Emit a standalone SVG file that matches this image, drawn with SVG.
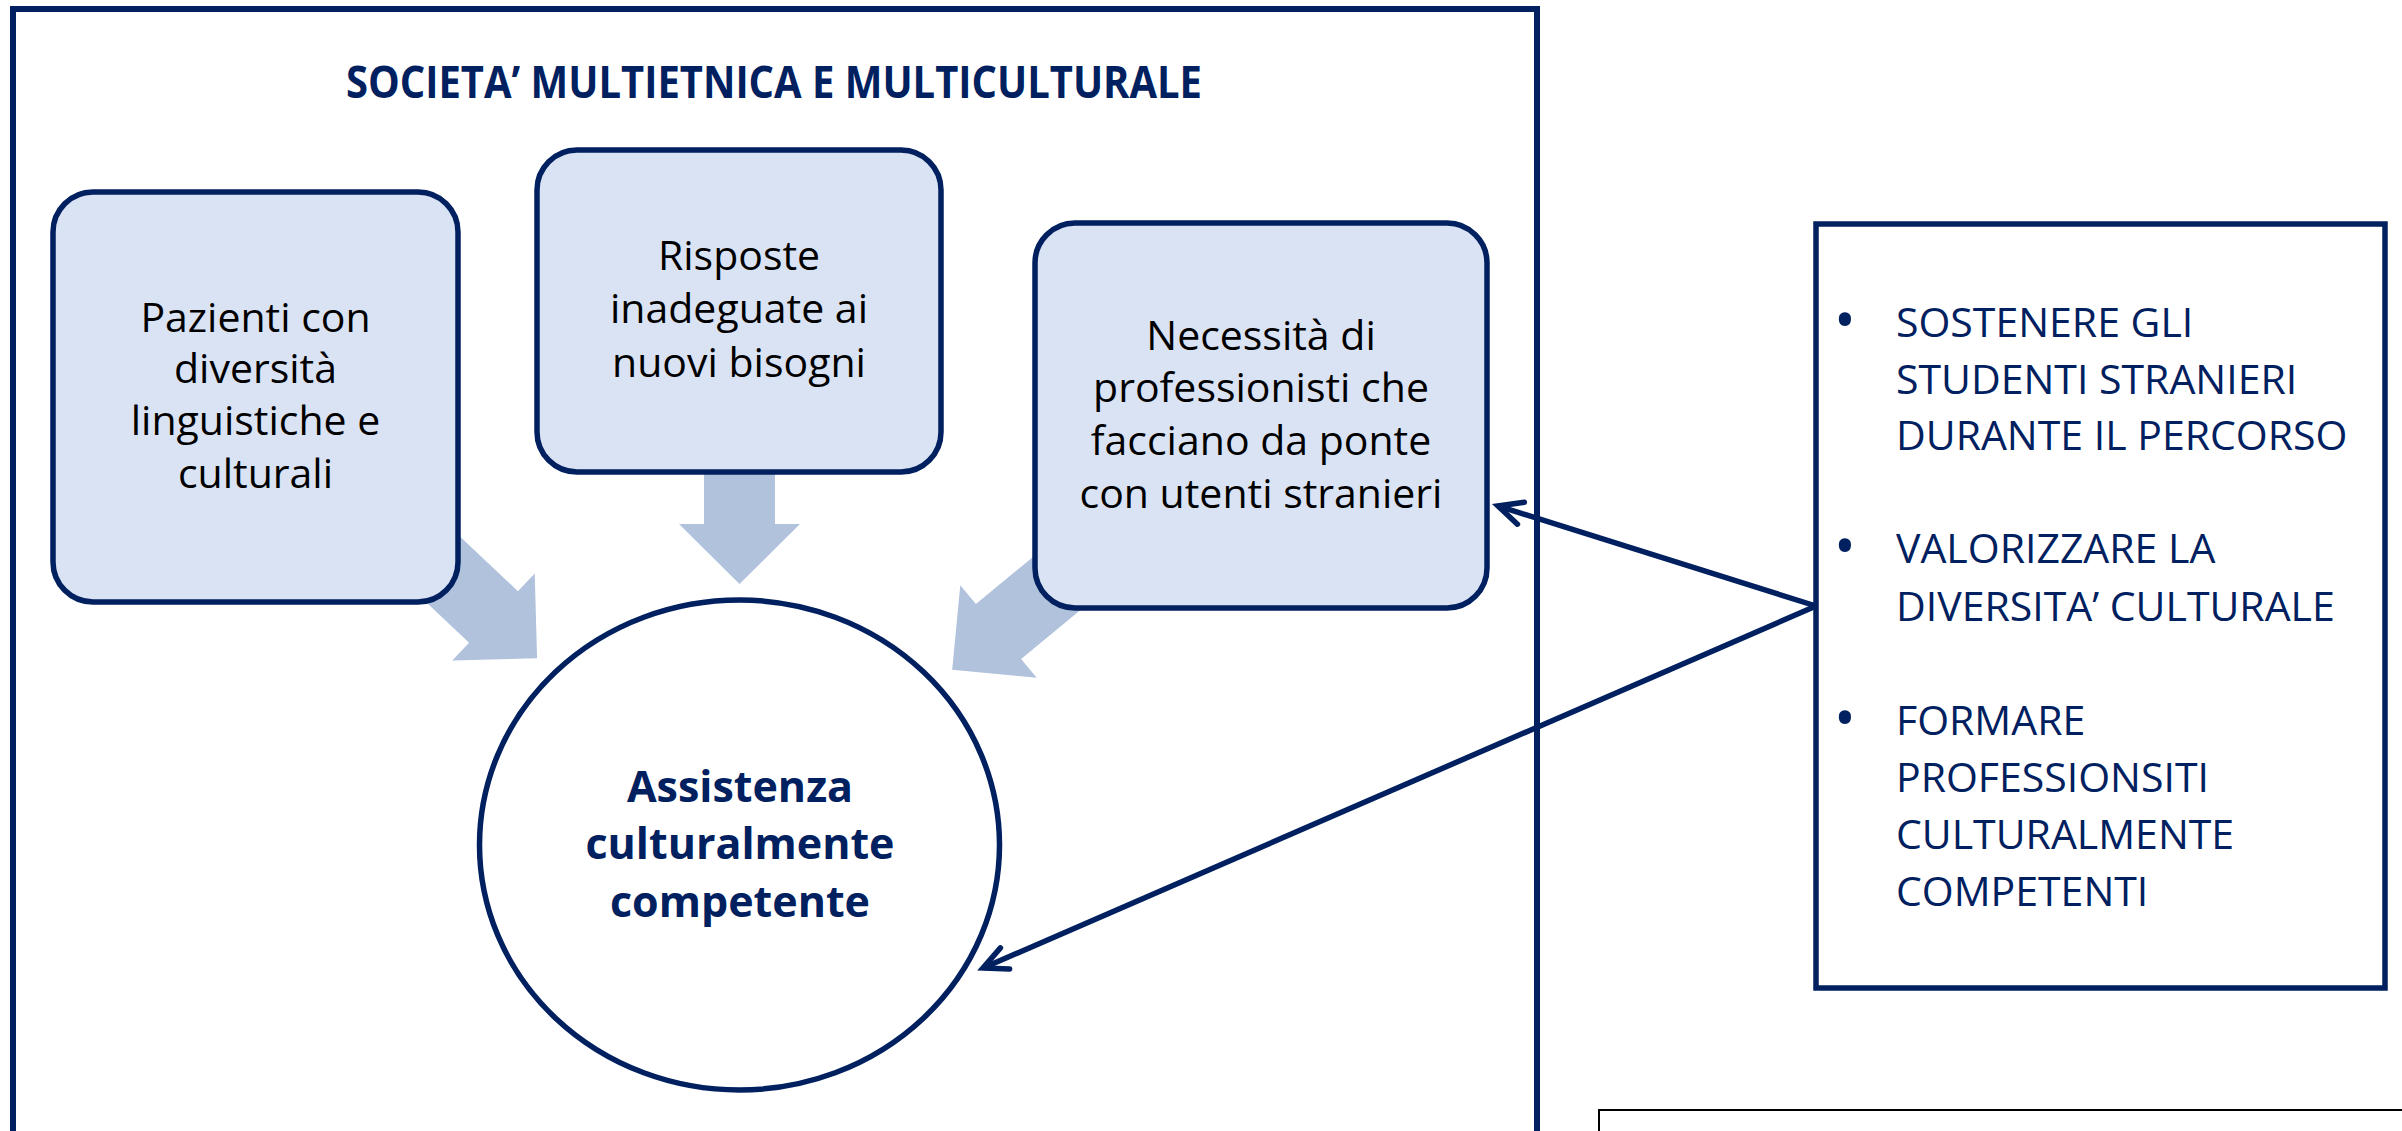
<svg xmlns="http://www.w3.org/2000/svg" width="2402" height="1131" viewBox="0 0 2402 1131">
<style>
.frame{fill:#ffffff;stroke:#002060;stroke-width:6}
.box{fill:#DAE3F3;stroke:#002060;stroke-width:5.5}
.blk{fill:#B1C2DC;stroke:none}
.btxt{font-family:'Open Sans','Liberation Sans',sans-serif;font-size:41px;fill:#000000;text-anchor:middle}
.ctxt{font-family:'Open Sans','Liberation Sans',sans-serif;font-size:43px;font-weight:bold;fill:#002060;text-anchor:middle}
.rtxt{font-family:'Open Sans','Liberation Sans',sans-serif;font-size:41px;fill:#002060}
.bul{font-family:'Open Sans','Liberation Sans',sans-serif;font-size:58px;fill:#002060;text-anchor:middle}
.title{font-family:'Open Sans','Liberation Sans',sans-serif;font-size:44px;font-weight:bold;fill:#002060;text-anchor:middle}
.conn{fill:none;stroke:#002060;stroke-width:5.5}
</style>
<defs>
<marker id="ah" markerUnits="userSpaceOnUse" markerWidth="40" markerHeight="40" viewBox="-30 -20 40 40" refX="0" refY="0" orient="auto" overflow="visible">
<path d="M-24,-11.5 L0,0 L-24,11.5" fill="none" stroke="#002060" stroke-width="5.5" stroke-linecap="round" stroke-linejoin="miter"/>
</marker>
</defs>
<rect width="2402" height="1131" fill="#ffffff"/>
<g id="frame">
<rect class="frame" x="13" y="9" width="1524" height="1140"/>
<text class="title" x="774" y="98" textLength="856" lengthAdjust="spacingAndGlyphs">SOCIETA’ MULTIETNICA E MULTICULTURALE</text>
</g>
<g id="block-arrows">
<polygon class="blk" points="372.5,454 517.9,591.2 534.7,573.4 537.1,658.2 452.3,660.6 469.1,642.8 323.8,505.6"/>
<polygon class="blk" points="704,460 704,524 679,524 739.5,584 800,524 775,524 775,460"/>
<polygon class="blk" points="1130.1,476.9 975.9,604.1 960.3,585.2 952.2,669.7 1036.7,677.8 1021.1,658.9 1175.3,531.7"/>
</g>
<g id="node-pazienti">
<rect class="box" x="53" y="192" width="405" height="410" rx="40"/>
<text class="btxt"><tspan x="255.5" y="332">Pazienti con</tspan><tspan x="255.5" y="383">diversità</tspan><tspan x="255.5" y="435">linguistiche e</tspan><tspan x="255.5" y="488">culturali</tspan></text>
</g>
<g id="node-risposte">
<rect class="box" x="537" y="150" width="404" height="322" rx="40"/>
<text class="btxt"><tspan x="739" y="270">Risposte</tspan><tspan x="739" y="323">inadeguate ai</tspan><tspan x="739" y="377">nuovi bisogni</tspan></text>
</g>
<g id="node-necessita">
<rect class="box" x="1035" y="223" width="452" height="385" rx="40"/>
<text class="btxt"><tspan x="1261" y="350">Necessità di</tspan><tspan x="1261" y="402">professionisti che</tspan><tspan x="1261" y="455">facciano da ponte</tspan><tspan x="1261" y="508">con utenti stranieri</tspan></text>
</g>
<g id="node-assistenza">
<ellipse cx="739.5" cy="845" rx="260" ry="245" fill="#ffffff" stroke="#002060" stroke-width="5.5"/>
<text class="ctxt"><tspan x="740" y="802">Assistenza</tspan><tspan x="740" y="859">culturalmente</tspan><tspan x="740" y="917">competente</tspan></text>
</g>
<g id="node-obiettivi">
<rect x="1816" y="224" width="569" height="764" fill="#ffffff" stroke="#002060" stroke-width="5.5"/>
<text class="bul"><tspan x="1845" y="341">•</tspan><tspan x="1845" y="567">•</tspan><tspan x="1845" y="739">•</tspan></text>
<text class="rtxt"><tspan x="1896" y="337">SOSTENERE GLI</tspan><tspan x="1896" y="394">STUDENTI STRANIERI</tspan><tspan x="1896" y="450">DURANTE IL PERCORSO</tspan><tspan x="1896" y="563">VALORIZZARE LA</tspan><tspan x="1896" y="621">DIVERSITA’ CULTURALE</tspan><tspan x="1896" y="735">FORMARE</tspan><tspan x="1896" y="792">PROFESSIONSITI</tspan><tspan x="1896" y="849">CULTURALMENTE</tspan><tspan x="1896" y="906">COMPETENTI</tspan></text>
</g>
<g id="connectors">
<line class="conn" x1="1816" y1="606" x2="1498" y2="506" marker-end="url(#ah)"/>
<line class="conn" x1="1816" y1="606" x2="983" y2="968" marker-end="url(#ah)"/>
</g>
<g id="note-box">
<rect x="1599" y="1110" width="820" height="60" fill="#ffffff" stroke="#000000" stroke-width="2"/>
</g>
</svg>
